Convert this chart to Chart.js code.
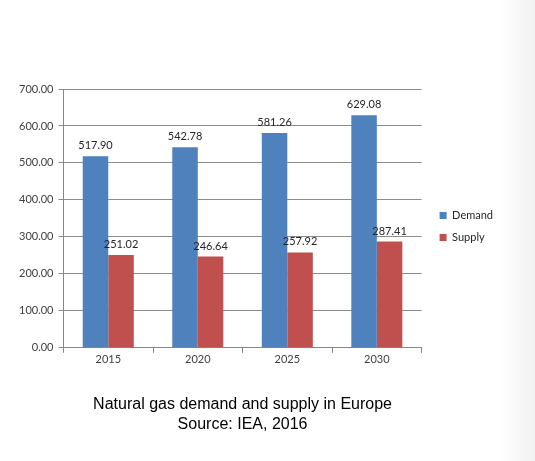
<!DOCTYPE html>
<html>
<head>
<meta charset="utf-8">
<script src="https://cdn.jsdelivr.net/npm/chart.js@4/dist/chart.umd.min.js"></script>
<style>
  html, body { margin: 0; padding: 0; }
  body {
    width: 535px; height: 461px;
    background: linear-gradient(to right, #ffffff 0px, #ffffff 500px, #f1f1f1 535px);
  }
  #wrap { position: relative; width: 535px; height: 461px; }
</style>
</head>
<body>
<div id="wrap"><canvas id="chart"></canvas></div>
<script>
const years = ["2015", "2020", "2025", "2030"];
const demand = [517.90, 542.78, 581.26, 629.08];
const supply = [251.02, 246.64, 257.92, 287.41];
const yTicks = { min: 0, max: 700, step: 100 };

const labelFont = "Lato, 'DejaVu Sans', sans-serif";

//draw the numbers above every bar
const barValues = {
  id: "barValues",
  afterDatasetsDraw(chart) {
    const ctx = chart.ctx;
    ctx.save();
    ctx.font = "11px " + labelFont;
    ctx.fillStyle = "#262626";
    ctx.textAlign = "center";
    ctx.textBaseline = "bottom";
    chart.data.datasets.forEach((ds, i) => {
      chart.getDatasetMeta(i).data.forEach((bar, j) => {
        ctx.fillText(ds.data[j].toFixed(2), bar.x, bar.y - 5);
      });
    });
    ctx.restore();
  }
};

let myChart = new Chart(document.getElementById("chart"), {
  type: "bar",
  plugins: [barValues],
  data: {
    labels: years,
    datasets: [
      { label: "Demand", data: demand, backgroundColor: "#4f81bd" },
      { label: "Supply", data: supply, backgroundColor: "#c0504d" }
    ]
  },
  options: {
    responsive: true,
    maintainAspectRatio: false,
    animation: false,
    layout: { padding: { top: 89, left: 14, right: 32, bottom: 26 } },
    datasets: { bar: { categoryPercentage: 0.57, barPercentage: 1 } },
    scales: {
      x: {
        grid: { drawOnChartArea: false, tickLength: 5, color: "#868686" },
        border: { color: "#868686" },
        ticks: { color: "#404040", font: { family: labelFont, size: 11 }, padding: 0 }
      },
      y: {
        min: yTicks.min,
        max: yTicks.max,
        grid: { color: "#8c8c8c", tickLength: 5 },
        border: { color: "#868686" },
        ticks: {
          stepSize: yTicks.step,
          color: "#404040",
          padding: 5,
          font: { family: labelFont, size: 11 },
          callback: (v) => v.toFixed(2)
        }
      },
      //empty axis, only keeps a gap between plot and legend
      gap: {
        position: "right",
        grid: { display: false },
        border: { display: false },
        ticks: { display: false },
        afterFit: (s) => { s.width = 7; }
      }
    },
    plugins: {
      tooltip: false,
      legend: {
        position: "right",
        fullSize: false,
        title: { display: true, text: " ", font: { size: 11 }, padding: { top: 0, bottom: 3 } },
        labels: {
          boxWidth: 7,
          boxHeight: 7,
          padding: 11,
          color: "#262626",
          font: { family: labelFont, size: 11 }
        }
      },
      title: {
        display: true,
        position: "bottom",
        fullSize: false,
        text: ["Natural gas demand and supply in Europe", "Source: IEA, 2016"],
        color: "#000000",
        font: { family: "'Liberation Sans', Arial, sans-serif", size: 16, weight: "normal", lineHeight: 1.25 },
        padding: { top: 29, bottom: 0 }
      }
    }
  }
});
</script>
</body>
</html>
